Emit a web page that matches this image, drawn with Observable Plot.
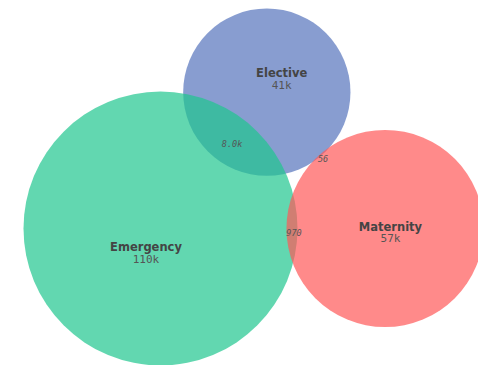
<!DOCTYPE html>
<html>
<head>
<meta charset="utf-8">
<script src="https://cdn.jsdelivr.net/npm/d3@7"></script>
<script src="https://cdn.jsdelivr.net/npm/@observablehq/plot@0.6"></script>
<style>
  html, body { margin: 0; padding: 0; background: #fff; }
  #chart { width: 478px; height: 365px; overflow: hidden; }
</style>
</head>
<body>
<div id="chart"></div>
<script>
// ---- data ----
const sets = ["Elective", "Emergency", "Maternity"];
const setValues = [41000, 110000, 57000];
const setValueLabels = ["41k", "110k", "57k"];
const pairA = ["Emergency", "Elective", "Emergency"];
const pairB = ["Elective", "Maternity", "Maternity"];
const pairValues = [8000, 56, 970];
const pairLabels = ["8.0k", "56", "970"];
const setColors = ["#5674bc", "#1fc68e", "#ff5958"];

// ---- layout (area-proportional Venn) ----
const W = 478, H = 365;
const RMAX = 137;                 // pixel radius of the largest set
const maxV = d3.max(setValues);
const rScale = d3.scaleSqrt().domain([0, maxV]).range([0, RMAX]);
const pxPerUnit = Math.PI * RMAX * RMAX / maxV;

function lens(r1, r2, d) {
  if (d >= r1 + r2) return 0;
  if (d <= Math.abs(r1 - r2)) return Math.PI * Math.min(r1, r2) ** 2;
  const a = r1 * r1 * Math.acos((d * d + r1 * r1 - r2 * r2) / (2 * d * r1));
  const b = r2 * r2 * Math.acos((d * d + r2 * r2 - r1 * r1) / (2 * d * r2));
  const c = 0.5 * Math.sqrt((-d + r1 + r2) * (d + r1 - r2) * (d - r1 + r2) * (d + r1 + r2));
  return a + b - c;
}
function solveDist(r1, r2, area) {
  let lo = Math.abs(r1 - r2), hi = r1 + r2;
  for (let i = 0; i < 80; i++) {
    const mid = (lo + hi) / 2;
    if (lens(r1, r2, mid) > area) lo = mid; else hi = mid;
  }
  return (lo + hi) / 2;
}
const rad = {};
sets.forEach((s, i) => rad[s] = rScale(setValues[i]));
const dist = {};
pairA.forEach((a, i) => {
  const b = pairB[i];
  const d = solveDist(rad[a], rad[b], pairValues[i] * pxPerUnit);
  dist[a + "|" + b] = d; dist[b + "|" + a] = d;
});
const D = (a, b) => dist[a + "|" + b];

// anchor: Emergency centre; Maternity to its right; Elective above
const origin = [160, 228];
const centre = {};
centre["Emergency"] = origin;
const dEM = D("Emergency", "Maternity");
centre["Maternity"] = [origin[0] + dEM, origin[1]];
const dEE = D("Emergency", "Elective"), dLM = D("Elective", "Maternity");
const ex = (dEE * dEE - dLM * dLM + dEM * dEM) / (2 * dEM);
const ey = -Math.sqrt(Math.max(0, dEE * dEE - ex * ex));
centre["Elective"] = [origin[0] + ex, origin[1] + ey];

// circles
const circles = sets.map((s, i) => ({
  name: s, value: setValues[i], label: setValueLabels[i],
  x: centre[s][0], y: centre[s][1], color: setColors[i]
}));

// label point: pole of inaccessibility of the exclusive region
function pole(s) {
  const [cx, cy] = centre[s], r = rad[s];
  let best = -Infinity, bp = [cx, cy];
  for (let x = cx - r; x <= cx + r; x += 0.5) {
    for (let y = cy - r; y <= cy + r; y += 0.5) {
      let m = r - Math.hypot(x - cx, y - cy);
      for (const o of sets) {
        if (o === s) continue;
        m = Math.min(m, Math.hypot(x - centre[o][0], y - centre[o][1]) - rad[o]);
      }
      if (m > best) { best = m; bp = [x, y]; }
    }
  }
  return bp;
}
const setText = circles.map(c => {
  const p = pole(c.name);
  return {name: c.name, label: c.label, x: p[0], y: p[1]};
});

// intersection labels: middle of the lens along the line of centres
const pairText = pairA.map((a, i) => {
  const b = pairB[i];
  const [x1, y1] = centre[a], [x2, y2] = centre[b];
  const d = Math.hypot(x2 - x1, y2 - y1);
  const ux = (x2 - x1) / d, uy = (y2 - y1) / d;
  const t = (rad[a] + (d - rad[b])) / 2;
  return {label: pairLabels[i], x: x1 + ux * t, y: y1 + uy * t};
});

const chart = Plot.plot({
  width: W, height: H,
  margin: 0,
  x: {domain: [0, W], range: [0, W], axis: null},
  y: {domain: [0, H], range: [0, H], axis: null},
  r: {type: "sqrt", domain: [0, maxV], range: [0, RMAX]},
  style: {background: "#fff"},
  marks: [
    Plot.dot(circles, {x: "x", y: "y", r: "value", fill: d => d.color, fillOpacity: 0.7,
      stroke: "none", sort: null}),
    Plot.text(setText, {x: "x", y: "y", text: "name", fill: "#444", fontSize: 11.5,
      fontWeight: "bold", fontFamily: "DejaVu Sans", textAnchor: "middle", lineAnchor: "middle"}),
    Plot.text(setText, {x: "x", y: "y", text: "label", dy: 12, fill: "#555", fontSize: 11,
      fontFamily: "DejaVu Sans Mono", textAnchor: "middle", lineAnchor: "middle"}),
    Plot.text(pairText, {x: "x", y: "y", text: "label", dx: 2, dy: 5, fill: "#555", fontSize: 8.5,
      fontStyle: "italic", fontFamily: "DejaVu Sans Mono", textAnchor: "middle", lineAnchor: "middle"})
  ]
});
document.getElementById("chart").appendChild(chart);
</script>
</body>
</html>
